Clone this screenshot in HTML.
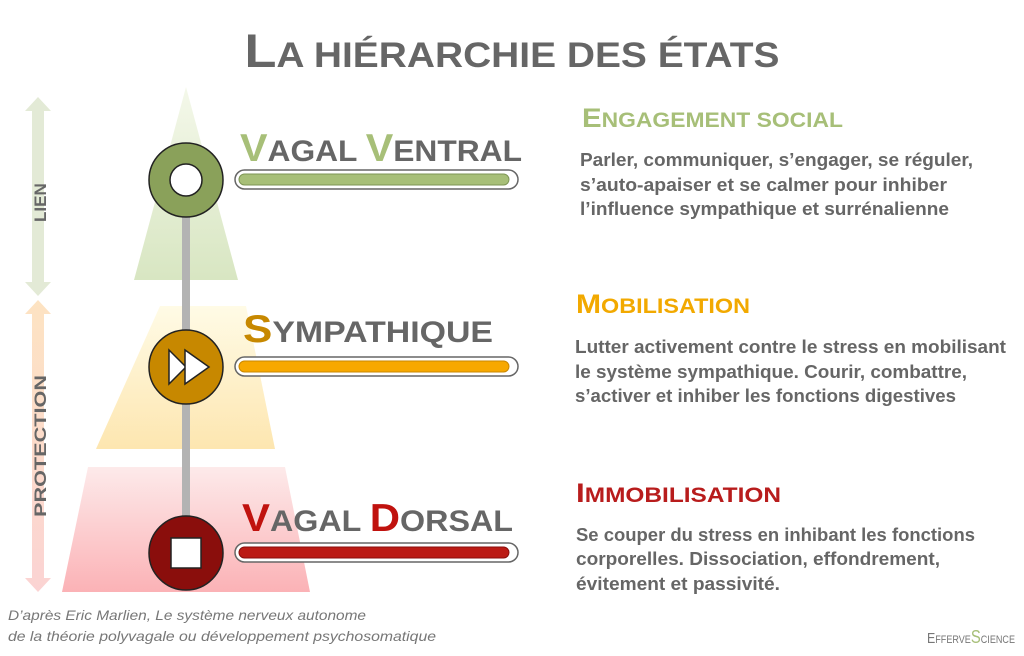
<!DOCTYPE html>
<html><head><meta charset="utf-8"><style>
html,body{margin:0;padding:0;background:#fff;width:1024px;height:656px;overflow:hidden}
svg{display:block}
text{font-family:"Liberation Sans",sans-serif}
</style></head><body>
<svg width="1024" height="656" viewBox="0 0 1024 656" xmlns="http://www.w3.org/2000/svg">
<defs>
<linearGradient id="gG" x1="0" y1="0" x2="0" y2="1"><stop offset="0" stop-color="#f4f8ea"/><stop offset="1" stop-color="#d8e6c2"/></linearGradient>
<linearGradient id="gY" x1="0" y1="0" x2="0" y2="1"><stop offset="0" stop-color="#fffbe6"/><stop offset="1" stop-color="#fde6b0"/></linearGradient>
<linearGradient id="gR" x1="0" y1="0" x2="0" y2="1"><stop offset="0" stop-color="#fdeaea"/><stop offset="1" stop-color="#fbb2b6"/></linearGradient>
<linearGradient id="aG" x1="0" y1="0" x2="0" y2="1"><stop offset="0" stop-color="#e3ead6"/><stop offset="1" stop-color="#e3ead6"/></linearGradient>
<linearGradient id="aP" x1="0" y1="0" x2="0" y2="1"><stop offset="0" stop-color="#fde3c2"/><stop offset="1" stop-color="#fbd3d3"/></linearGradient>
</defs>
<text x="512" y="67" text-anchor="middle" font-weight="bold" fill="#666" textLength="535" lengthAdjust="spacingAndGlyphs"><tspan font-size="47">L</tspan><tspan font-size="35">A HI</tspan><tspan font-size="35">ÉRARCHIE DES ÉTATS</tspan></text>

<!-- triangles -->
<polygon points="186,87 238,280 134,280" fill="url(#gG)"/>
<polygon points="160,306 246,306 275,449 96,449" fill="url(#gY)"/>
<polygon points="88,467 285,467 310,592 62,592" fill="url(#gR)"/>

<!-- side arrows -->
<polygon points="38,97 51,111 44,111 44,282 51,282 38,296 25,282 32,282 32,111 25,111" fill="url(#aG)"/>
<polygon points="38,300 51,314 44,314 44,578 51,578 38,592 25,578 32,578 32,314 25,314" fill="url(#aP)"/>
<text transform="translate(46,222) rotate(-90)" font-size="17" font-weight="bold" fill="#666">LIEN</text>
<text transform="translate(46,517) rotate(-90)" font-size="17" font-weight="bold" fill="#666" textLength="142" lengthAdjust="spacingAndGlyphs">PROTECTION</text>

<!-- vertical line -->
<rect x="182" y="200" width="8" height="340" fill="#b3b3b3"/>

<!-- circles -->
<circle cx="186" cy="180" r="37" fill="#8aa15a" stroke="#222" stroke-width="1.5"/>
<circle cx="186" cy="180" r="16" fill="#fff" stroke="#222" stroke-width="1.5"/>
<circle cx="186" cy="367" r="37" fill="#c78800" stroke="#222" stroke-width="1.5"/>
<polygon points="169,350 169,384 186,367" fill="#fff" stroke="#222" stroke-width="1.5"/>
<polygon points="185,350 185,384 209,367" fill="#fff" stroke="#222" stroke-width="1.5"/>
<circle cx="186" cy="553" r="37" fill="#8a0e0c" stroke="#222" stroke-width="1.5"/>
<rect x="171" y="538" width="30" height="30" fill="#fff" stroke="#222" stroke-width="1.5"/>

<!-- bars -->
<rect x="235" y="170" width="283" height="19" rx="9.5" fill="#fff" stroke="#666" stroke-width="1.5"/>
<rect x="239" y="174" width="270" height="11" rx="5.5" fill="#a7bf78" stroke="#7e9655" stroke-width="1"/>
<rect x="235" y="357" width="283" height="19" rx="9.5" fill="#fff" stroke="#666" stroke-width="1.5"/>
<rect x="239" y="361" width="270" height="11" rx="5.5" fill="#f7a800" stroke="#c98700" stroke-width="1"/>
<rect x="235" y="543" width="283" height="19" rx="9.5" fill="#fff" stroke="#666" stroke-width="1.5"/>
<rect x="239" y="547" width="270" height="11" rx="5.5" fill="#bb1a14" stroke="#8a0e0c" stroke-width="1"/>

<!-- state labels -->
<text x="240" y="161" font-weight="bold" fill="#666" textLength="282" lengthAdjust="spacingAndGlyphs"><tspan font-size="39" fill="#a7bf78">V</tspan><tspan font-size="30">AGAL </tspan><tspan font-size="39" fill="#a7bf78">V</tspan><tspan font-size="30">ENTRAL</tspan></text>
<text x="243" y="342" font-weight="bold" fill="#666" textLength="250" lengthAdjust="spacingAndGlyphs"><tspan font-size="39" fill="#c78800">S</tspan><tspan font-size="30">YMPATHIQUE</tspan></text>
<text x="242" y="531" font-weight="bold" fill="#666" textLength="271" lengthAdjust="spacingAndGlyphs"><tspan font-size="39" fill="#c0120e">V</tspan><tspan font-size="30">AGAL </tspan><tspan font-size="39" fill="#c0120e">D</tspan><tspan font-size="30">ORSAL</tspan></text>

<!-- headings -->
<text x="582" y="127" font-weight="bold" fill="#a7bf78" textLength="261" lengthAdjust="spacingAndGlyphs"><tspan font-size="27">E</tspan><tspan font-size="21">NGAGEMENT SOCIAL</tspan></text>
<text x="576" y="313" font-weight="bold" fill="#f2a900" textLength="174" lengthAdjust="spacingAndGlyphs"><tspan font-size="27">M</tspan><tspan font-size="21">OBILISATION</tspan></text>
<text x="576" y="502" font-weight="bold" fill="#b81c1c" textLength="205" lengthAdjust="spacingAndGlyphs"><tspan font-size="27">I</tspan><tspan font-size="21">MMOBILISATION</tspan></text>

<!-- body -->
<g font-size="18" font-weight="bold" fill="#666">
<text x="580" y="166" textLength="393" lengthAdjust="spacingAndGlyphs">Parler, communiquer, s’engager, se réguler,</text>
<text x="580" y="191" textLength="367" lengthAdjust="spacingAndGlyphs">s’auto-apaiser et se calmer pour inhiber</text>
<text x="580" y="215" textLength="369" lengthAdjust="spacingAndGlyphs">l’influence sympathique et surrénalienne</text>
<text x="575" y="353" textLength="431" lengthAdjust="spacingAndGlyphs">Lutter activement contre le stress en mobilisant</text>
<text x="575" y="378" textLength="392" lengthAdjust="spacingAndGlyphs">le système sympathique. Courir, combattre,</text>
<text x="575" y="402" textLength="381" lengthAdjust="spacingAndGlyphs">s’activer et inhiber les fonctions digestives</text>
<text x="576" y="541" textLength="399" lengthAdjust="spacingAndGlyphs">Se couper du stress en inhibant les fonctions</text>
<text x="576" y="565" textLength="364" lengthAdjust="spacingAndGlyphs">corporelles. Dissociation, effondrement,</text>
<text x="576" y="590" textLength="204" lengthAdjust="spacingAndGlyphs">évitement et passivité.</text>
</g>

<!-- footer -->
<g font-size="14" font-style="italic" fill="#777">
<text x="8" y="620" textLength="358" lengthAdjust="spacingAndGlyphs">D’après Eric Marlien, Le système nerveux autonome</text>
<text x="8" y="641" textLength="428" lengthAdjust="spacingAndGlyphs">de la théorie polyvagale ou développement psychosomatique</text>
</g>
<text x="927" y="643" fill="#777" font-size="15" textLength="88" lengthAdjust="spacingAndGlyphs"><tspan>E</tspan><tspan font-size="11">FFERVE</tspan><tspan fill="#a7bf78" font-size="18">S</tspan><tspan font-size="11">CIENCE</tspan></text>
</svg>
</body></html>
